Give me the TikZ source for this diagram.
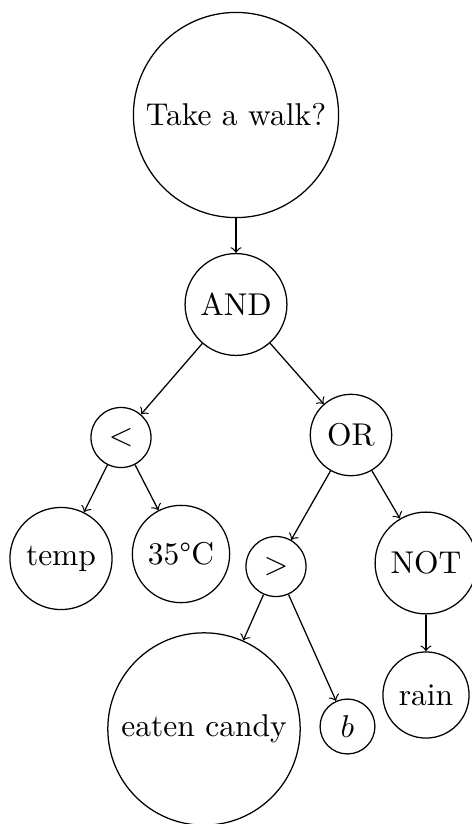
\documentclass[tikz,border=0pt]{standalone}
\begin{document}
\begin{tikzpicture}[x=0.3175pt,y=-0.3175pt,
  tnode/.style={draw,circle},
  edge/.style={->}]
\useasboundingbox (0,0) rectangle (471,824);
\node[tnode] (walk)  at (236,115)   {Take a walk?};
\node[tnode] (and)   at (236,304.5) {AND};
\node[tnode] (lt)    at (121,437.5) {$<$};
\node[tnode] (or)    at (351,435)   {OR};
\node[tnode] (temp)  at (61,558.5)  {temp};
\node[tnode] (deg)   at (181,554)   {35\textdegree C};
\node[tnode] (gt)    at (276,566.5) {$>$};
\node[tnode] (not)   at (426,563)   {NOT};
\node[tnode] (candy) at (204,729)   {eaten candy};
\node[tnode] (b)     at (347.5,726.5) {$b$};
\node[tnode] (rain)  at (426,695)   {rain};
\draw[edge] (walk) -- (and);
\draw[edge] (and) -- (lt);
\draw[edge] (and) -- (or);
\draw[edge] (lt) -- (temp);
\draw[edge] (lt) -- (deg);
\draw[edge] (or) -- (gt);
\draw[edge] (or) -- (not);
\draw[edge] (gt) -- (candy);
\draw[edge] (gt) -- (b);
\draw[edge] (not) -- (rain);
\end{tikzpicture}
\end{document}
